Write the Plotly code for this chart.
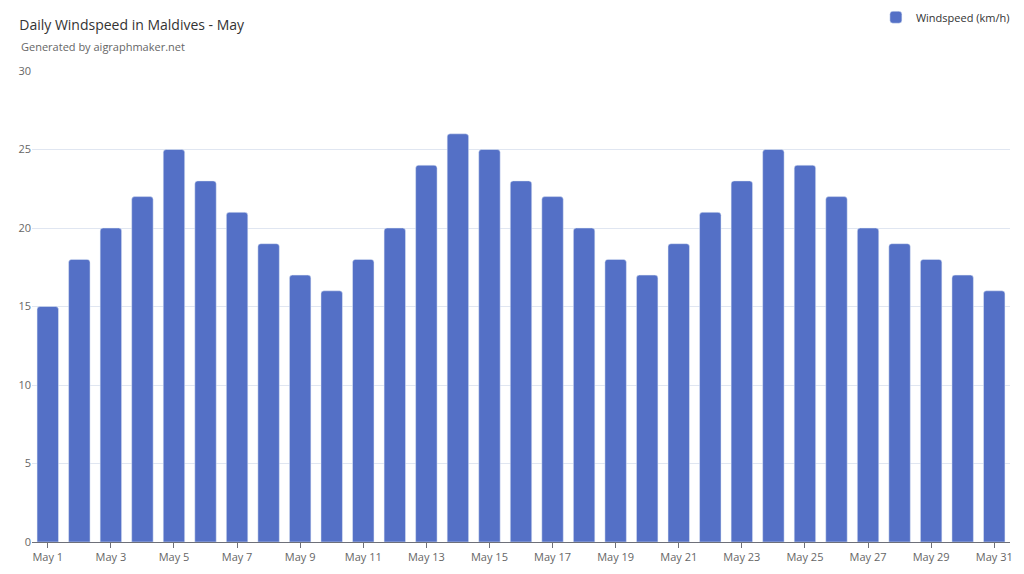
import plotly.graph_objects as go

days = [f"May {d}" for d in range(1, 32)]
windspeed = [15, 18, 20, 22, 25, 23, 21, 19, 17, 16, 18, 20, 24, 26, 25, 23,
             22, 20, 18, 17, 19, 21, 23, 25, 24, 22, 20, 19, 18, 17, 16]
tick_labels = days[::2]

fig = go.Figure(go.Bar(
    x=days, y=windspeed, name="Windspeed (km/h)",
    marker=dict(color="#5470c6", cornerradius=3),
    width=0.68,
))

fig.update_layout(
    width=1024, height=574,
    margin=dict(l=24, r=22, t=63, b=40, autoexpand=False),
    paper_bgcolor="white", plot_bgcolor="white",
    font=dict(family="Open Sans, sans-serif", color="#666", size=11),
    title=dict(text="Daily Windspeed in Maldives - May", x=0.011, y=0.97,
               xanchor="left", yanchor="middle", font=dict(size=14, color="#333")),
    annotations=[dict(text="Generated by aigraphmaker.net", xref="paper", yref="paper",
                      x=-0.013, y=1.032, xanchor="left", yanchor="bottom",
                      showarrow=False, font=dict(size=11, color="#666"))],
    showlegend=True,
    legend=dict(x=1.005, y=1.145, xanchor="right", yanchor="top", font=dict(size=11, color="#333")),
    bargap=0.32,
)
fig.update_xaxes(tickvals=tick_labels, showline=True, linecolor="#6e7079",
                 ticks="outside", ticklen=5, tickcolor="#6e7079")
fig.update_yaxes(range=[0, 30], dtick=5, gridcolor="#e0e6f1", zeroline=False)

fig.write_html("out.html")
